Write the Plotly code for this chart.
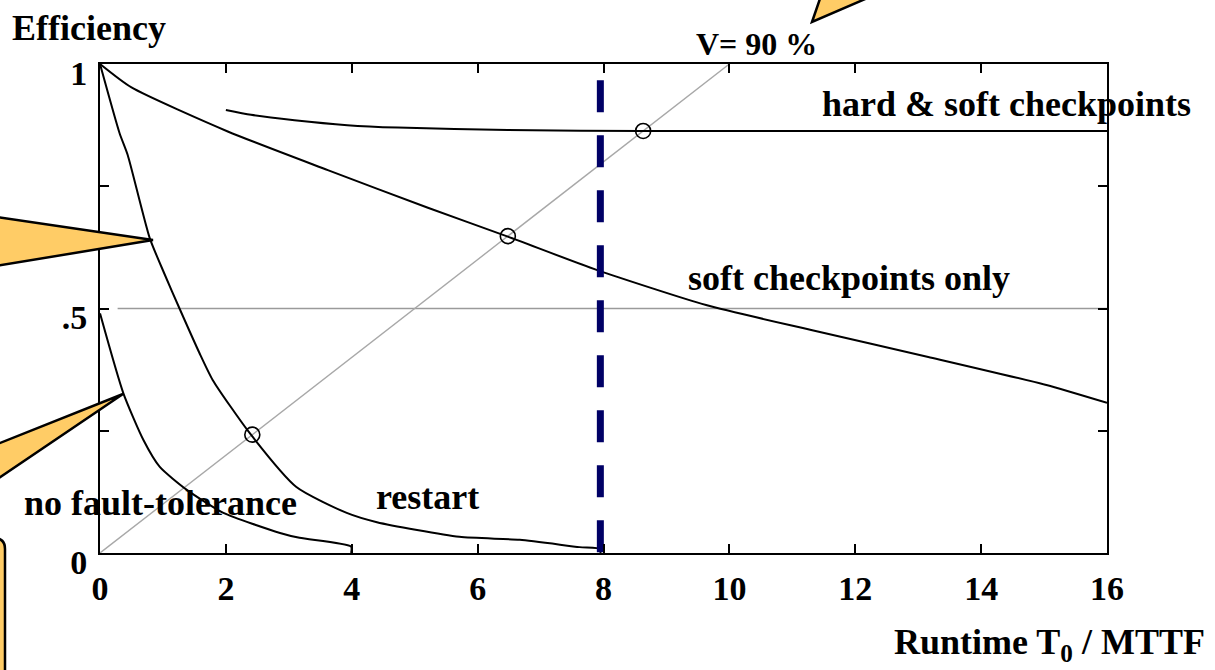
import plotly.graph_objects as go

# ---------------- data ----------------
x_tick_vals = [0, 2, 4, 6, 8, 10, 12, 14, 16]
x_tick_text = ["0", "2", "4", "6", "8", "10", "12", "14", "16"]
y_tick_vals = [0, 0.5, 1]
y_tick_text = ["0", ".5", "1"]
y_minor_vals = [0.25, 0.75]

soft_T = [0, 0.5, 2.03, 3.62, 5.21, 6.48, 7.89, 9.63, 11.3, 13.16, 15.02, 16]
soft_E = [1.0, 0.952, 0.862, 0.783, 0.706, 0.647, 0.579, 0.507, 0.456, 0.401, 0.344, 0.307]

hard_T = [2.0, 2.4, 3.09, 3.93, 4.73, 6.48, 8.63, 16]
hard_E = [0.906, 0.896, 0.885, 0.875, 0.870, 0.865, 0.863, 0.863]

restart_T = [0, 0.31, 0.44, 0.79, 1.03, 1.26, 1.58, 1.79, 2.38, 3.12, 3.92, 4.4, 5.71, 6.67, 7.62, 7.95, 7.95]
restart_E = [1.0, 0.859, 0.814, 0.644, 0.569, 0.501, 0.409, 0.354, 0.245, 0.135, 0.082, 0.063, 0.033, 0.027, 0.012, 0.008, 0.0]

nofault_T = [0, 0.37, 0.69, 0.95, 1.38, 1.96, 2.86, 3.17, 3.99, 3.99]
nofault_E = [0.49, 0.327, 0.231, 0.176, 0.129, 0.082, 0.041, 0.031, 0.013, 0.0]

v90_T = [0, 10]
v90_E = [0, 1]

half_T = [0.28, 16]
half_E = [0.5, 0.5]

cross_T = [2.42, 6.48, 8.63]
cross_E = [0.242, 0.648, 0.863]

cut_T = [7.95, 7.95]
cut_E = [0.967, 0.0]

# ---------------- layout helpers (pixel -> paper) ----------------
W, H = 1215, 670
L, R, T, B = 100, 1107, 64, 553


def px(x):
    return (x - L) / (R - L)


def py(y):
    return (B - y) / (B - T)


FONT = "Liberation Serif"
ORANGE = "#FFCC66"

fig = go.Figure()

fig.add_trace(go.Scatter(x=half_T, y=half_E, mode="lines",
                         line=dict(color="#9a9a9a", width=1.6), hoverinfo="skip"))
fig.add_trace(go.Scatter(x=v90_T, y=v90_E, mode="lines",
                         line=dict(color="#a8a8a8", width=1.4), hoverinfo="skip"))
for tx, ey in [(soft_T, soft_E), (hard_T, hard_E), (restart_T, restart_E), (nofault_T, nofault_E)]:
    fig.add_trace(go.Scatter(x=tx, y=ey, mode="lines", line_shape="spline",
                             line=dict(color="black", width=2, smoothing=0.6), hoverinfo="skip"))
fig.add_trace(go.Scatter(x=cross_T, y=cross_E, mode="markers",
                         marker=dict(symbol="circle-open", size=15, color="black",
                                     line=dict(width=1.6, color="black")),
                         hoverinfo="skip"))
fig.add_trace(go.Scatter(x=cut_T, y=cut_E, mode="lines",
                         line=dict(color="#000066", width=7, dash="32px,23px"),
                         hoverinfo="skip"))

tickfont = dict(family=FONT, size=34, color="black", weight="bold")

fig.update_xaxes(range=[0, 16], tickvals=x_tick_vals, ticktext=x_tick_text,
                 showline=True, mirror="ticks", linecolor="black", linewidth=2,
                 ticks="inside", ticklen=9, tickwidth=1.6, tickcolor="black",
                 showgrid=False, zeroline=False, tickfont=tickfont,
                 ticklabelstandoff=4)
fig.update_yaxes(range=[0, 1], tickvals=y_tick_vals, ticktext=y_tick_text,
                 showline=True, mirror="ticks", linecolor="black", linewidth=2,
                 ticks="inside", ticklen=9, tickwidth=1.6, tickcolor="black",
                 minor=dict(tickvals=y_minor_vals, ticks="inside", ticklen=9,
                            tickwidth=1.6, tickcolor="black", showgrid=False),
                 showgrid=False, zeroline=False, tickfont=tickfont,
                 ticklabelshift=9, ticklabelstandoff=4)


def label(text, x, y, xanchor="left", size=36):
    fig.add_annotation(text=text, x=px(x), y=py(y), xref="paper", yref="paper",
                       xanchor=xanchor, yanchor="middle", showarrow=False,
                       font=dict(family=FONT, size=size, color="black", weight="bold"))


label("Efficiency", 10, 28)
label("V= 90 %", 756, 44, xanchor="center", size=32)
label("hard & soft checkpoints", 820, 104)
label("soft checkpoints only", 686, 278)
label("no fault-tolerance", 22, 503)
label("restart", 374, 497)
label("Runtime T<sub>0</sub> / MTTF", 1207, 644, xanchor="right")


def path(points, close=True):
    s = "M " + " L ".join(f"{px(a):.5f},{py(b):.5f}" for a, b in points)
    return s + (" Z" if close else "")


callout_style = dict(type="path", xref="paper", yref="paper", fillcolor=ORANGE,
                     line=dict(color="black", width=2.5), layer="above")
# top pointer
fig.add_shape(path=path([(812, 22), (823, -10), (886, -10)]), **callout_style)
# left middle pointer
fig.add_shape(path=path([(-10, 216), (153, 240), (-10, 267)]), **callout_style)
# lower-left pointer
fig.add_shape(path=path([(-10, 447), (123, 394), (-10, 484)]), **callout_style)
# bottom-left rounded box
box = (f"M {px(-30):.5f},{py(538):.5f} L {px(-6):.5f},{py(538):.5f} "
       f"Q {px(5):.5f},{py(538):.5f} {px(5):.5f},{py(549):.5f} "
       f"L {px(5):.5f},{py(690):.5f} L {px(-30):.5f},{py(690):.5f} Z")
fig.add_shape(path=box, **callout_style)

fig.update_layout(width=W, height=H, margin=dict(l=L, r=W - R, t=T, b=H - B),
                  paper_bgcolor="white", plot_bgcolor="white", showlegend=False)

fig.write_html("out.html", config={"displayModeBar": False},
               post_script="document.body.style.margin='0';document.body.style.overflow='hidden';")
